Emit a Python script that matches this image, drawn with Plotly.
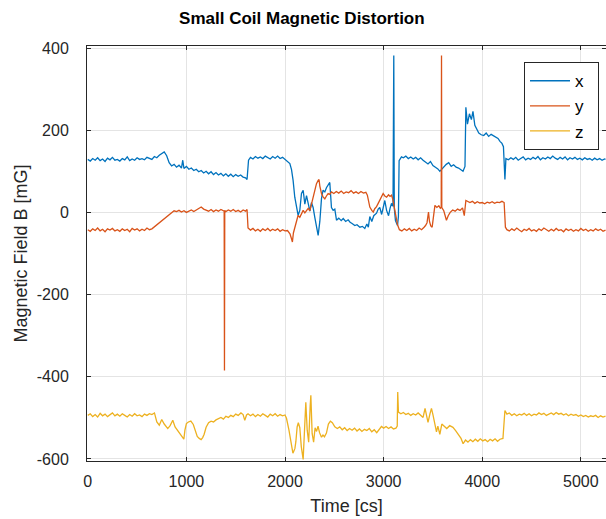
import plotly.graph_objects as go

# (time [cs], field [mG])
X_PTS = [(0,129),(25,125),(50,131),(75,127),(100,133),(125,126),(150,130),(175,124),(200,132),(225,128),
 (250,134),(275,127),(300,129),(325,125),(350,131),(375,128),(400,135),(425,126),(450,130),(475,127),
 (500,133),(525,129),(550,131),(575,128),(600,134),
 (625,132),(650,129),(675,136),(700,133),(725,139),(750,144),(775,147),(800,138),(825,121),(850,113),
 (875,117),(900,110),(925,115),(950,108),(963,127),(975,107),(1000,112),(1025,105),(1050,108),(1075,102),
 (1100,105),(1125,99),(1150,102),(1175,96),(1200,100),(1225,94),(1250,99),(1275,92),(1300,97),(1325,91),
 (1350,95),(1375,89),(1400,94),(1425,88),(1450,93),(1475,87),(1500,92),(1525,88),(1550,91),(1575,86),
 (1600,84),(1615,80),
 (1630,127),(1650,134),(1675,130),(1700,136),(1725,132),(1750,135),(1775,131),(1800,137),(1825,133),
 (1850,130),(1875,136),(1900,132),(1925,137),(1950,131),(1975,134),(2000,129),(2025,124),(2049,119),
 (2066,104),(2082,78),(2099,37),(2116,12),(2133,-7),(2150,5),(2167,46),(2184,54),(2201,20),(2218,41),
 (2235,20),(2252,3),(2268,24),(2285,12),(2302,-12),(2319,-36),(2336,-56),(2353,-22),(2370,34),(2386,54),
 (2404,50),(2420,60),(2437,66),(2454,73),(2471,12),(2488,5),(2505,8),(2522,-19),(2545,-14),(2570,-20),
 (2590,-15),(2615,-22),(2640,-18),(2660,-24),(2680,-27),(2708,-32),(2730,-30),(2759,-36),(2785,-34),
 (2809,-39),(2830,-28),(2845,-36),(2860,-10),(2880,-22),(2900,-8),(2928,-2),(2945,8),(2961,12),(2980,-5),
 (3000,20),(3012,29),(3030,5),(3050,-8),(3065,10),(3080,22),(3095,15),(3103,382),(3108,10),(3120,-20),
 (3141,-32),(3150,-10),(3157,126),(3181,135),
 (3200,133),(3225,137),(3250,131),(3275,135),(3300,130),(3325,134),(3350,128),(3375,133),(3400,127),
 (3425,122),(3450,118),(3475,124),(3500,114),(3525,110),(3550,106),(3570,100),(3590,105),(3610,112),
 (3635,117),(3660,121),(3685,112),(3710,116),(3735,110),(3760,108),(3785,104),(3805,100),(3825,112),
 (3834,256),(3850,215),(3870,240),(3890,226),(3906,246),(3925,212),(3945,201),(3965,193),(3990,189),
 (4015,187),(4040,193),(4065,185),(4090,190),(4115,186),(4140,184),(4160,180),(4180,173),(4200,168),
 (4215,160),(4230,80),(4240,131),
 (4265,128),(4290,133),(4315,129),(4340,134),(4365,127),(4390,131),(4415,135),(4440,128),(4465,132),
 (4490,129),(4515,134),(4540,130),(4565,136),(4590,128),(4615,133),(4640,130),(4665,135),(4690,131),
 (4715,137),(4740,132),(4765,129),(4790,134),(4815,130),(4840,135),(4865,128),(4890,133),(4915,130),
 (4940,134),(4965,129),(4990,132),(5015,128),(5040,133),(5065,129),(5090,131),(5115,127),(5140,132),
 (5165,128),(5190,131),(5215,127),(5240,130),(5250,129)]

Y_PTS = [(0,-42),(25,-46),(50,-40),(75,-44),(100,-38),(125,-45),(150,-41),(175,-47),(200,-40),(225,-43),
 (250,-39),(275,-45),(300,-42),(325,-46),(350,-40),(375,-44),(400,-41),(425,-47),(450,-39),(475,-43),
 (500,-40),(525,-45),(550,-41),(575,-44),(600,-38),(625,-42),
 (650,-40),(675,-35),(700,-31),(725,-25),(750,-20),(775,-15),(800,-9),(825,-5),(850,0),(875,4),(900,2),
 (925,5),(950,1),(975,4),(1000,0),(1025,3),(1050,6),(1075,2),(1100,5),(1125,10),(1150,13),(1175,8),
 (1200,6),(1225,3),(1250,7),(1275,2),(1300,6),(1325,3),(1350,7),(1375,4),(1383,3),(1386,-385),(1389,5),
 (1400,2),(1425,6),(1450,3),(1475,7),(1500,2),(1525,5),(1550,1),(1575,6),(1600,3),(1615,7),(1625,-38),
 (1650,-43),(1675,-39),(1700,-45),(1725,-41),(1750,-46),(1775,-40),(1800,-44),(1825,-39),(1850,-45),
 (1875,-41),(1900,-44),(1925,-40),(1950,-46),(1975,-42),(2000,-45),(2025,-44),(2050,-52),(2066,-64),
 (2075,-72),(2085,-50),(2099,-36),(2116,-20),(2133,-7),(2150,-12),(2167,-4),(2184,5),(2201,-1),(2218,6),
 (2235,10),(2252,4),(2268,20),(2285,34),(2302,52),(2319,70),(2336,78),(2345,80),(2353,64),(2370,46),
 (2386,38),(2404,33),(2420,40),(2437,46),(2454,44),(2471,50),(2495,46),(2520,51),(2545,47),(2570,52),
 (2595,46),(2620,50),(2645,48),(2670,53),(2695,47),(2720,50),(2745,46),(2770,51),(2795,47),(2820,49),
 (2835,42),(2848,30),(2860,13),(2880,5),(2895,1),(2910,9),(2928,14),(2945,22),(2961,30),(2980,38),
 (2995,46),(3012,40),(3030,37),(3050,43),(3065,39),(3080,42),(3095,30),(3110,10),(3125,-12),(3141,-30),
 (3160,-42),(3185,-45),(3210,-40),(3235,-44),(3260,-39),(3285,-45),(3310,-41),(3335,-44),(3360,-38),
 (3385,-42),(3410,-36),(3425,-32),(3440,-25),(3455,1),(3465,-22),(3478,-33),(3492,-36),(3505,-8),
 (3520,17),(3540,12),(3560,16),(3575,10),(3584,12),(3587,382),(3590,12),(3610,4),(3625,-8),(3637,-19),
 (3655,-8),(3675,0),(3700,6),(3725,3),(3750,8),(3775,5),(3800,11),(3818,-8),(3834,29),(3850,27),
 (3875,24),(3900,27),(3925,22),(3950,26),(3975,23),(4000,24),(4025,21),(4050,25),(4075,23),(4100,26),
 (4125,22),(4150,25),(4175,24),(4200,27),(4222,24),(4235,-36),(4250,-42),
 (4275,-45),(4300,-40),(4325,-44),(4350,-38),(4375,-43),(4400,-47),(4425,-41),(4450,-44),(4475,-39),
 (4500,-45),(4525,-42),(4550,-46),(4575,-40),(4600,-44),(4625,-38),(4650,-43),(4675,-46),(4700,-41),
 (4725,-45),(4750,-39),(4775,-44),(4800,-42),(4825,-47),(4850,-40),(4875,-44),(4900,-41),(4925,-46),
 (4950,-42),(4975,-45),(5000,-39),(5025,-44),(5050,-41),(5075,-46),(5100,-42),(5125,-45),(5150,-40),
 (5175,-44),(5200,-41),(5225,-46),(5250,-43)]

Z_PTS = [(0,-494),(25,-490),(50,-497),(75,-492),(100,-498),(125,-489),(150,-495),(175,-491),(200,-497),
 (225,-493),(250,-488),(275,-495),(300,-491),(325,-496),(350,-490),(375,-494),(400,-498),(425,-492),
 (450,-496),(475,-490),(500,-495),(525,-493),(550,-497),(575,-491),(600,-494),(625,-490),
 (650,-492),(676,-488),(700,-510),(725,-518),(750,-504),(775,-515),(795,-520),(811,-526),(835,-519),
 (862,-506),(885,-522),(910,-530),(935,-537),(955,-545),(974,-552),(985,-530),(1000,-514),(1020,-510),
 (1045,-508),(1070,-516),(1090,-530),(1110,-545),(1130,-550),(1149,-553),(1165,-548),(1180,-540),
 (1200,-523),(1225,-512),(1250,-508),(1275,-510),(1300,-505),(1325,-502),(1350,-499),(1375,-503),
 (1400,-496),(1425,-499),(1450,-494),(1475,-497),(1500,-491),(1525,-494),(1553,-488),(1575,-492),
 (1592,-506),(1610,-493),(1625,-490),(1650,-495),(1675,-491),(1700,-497),(1725,-492),(1750,-496),
 (1775,-490),(1800,-494),(1825,-498),(1850,-491),(1875,-495),(1900,-490),(1925,-496),(1950,-492),
 (1975,-495),(2000,-493),(2015,-501),(2040,-530),(2066,-571),(2080,-586),(2100,-575),(2110,-558),
 (2123,-522),(2135,-512),(2150,-524),(2165,-570),(2184,-601),(2197,-522),(2211,-462),(2225,-530),
 (2240,-559),(2255,-472),(2262,-445),(2275,-538),(2290,-559),(2305,-524),(2320,-533),(2335,-520),
 (2350,-536),(2370,-547),(2385,-542),(2400,-546),(2420,-537),(2440,-515),(2460,-508),(2480,-512),
 (2505,-522),(2530,-526),(2555,-522),(2580,-529),(2605,-524),(2630,-531),(2655,-526),(2680,-530),
 (2705,-525),(2730,-532),(2755,-527),(2780,-533),(2805,-528),(2830,-531),(2855,-526),(2880,-534),
 (2905,-529),(2930,-536),(2955,-527),(2978,-521),(3000,-525),(3025,-521),(3050,-526),(3075,-522),
 (3100,-527),(3125,-525),(3138,-520),(3143,-437),(3150,-486),(3175,-490),(3200,-487),(3225,-492),
 (3250,-489),(3275,-494),(3300,-490),(3325,-493),(3350,-488),(3375,-494),(3400,-499),(3420,-477),
 (3435,-492),(3450,-511),(3470,-490),(3485,-477),(3500,-492),(3520,-515),(3536,-534),(3550,-520),
 (3570,-540),(3590,-515),(3615,-521),(3640,-526),(3670,-519),(3703,-523),(3730,-531),(3760,-541),
 (3785,-550),(3806,-563),(3830,-554),(3855,-559),(3880,-553),(3905,-558),(3930,-552),(3955,-557),
 (3980,-551),(4005,-556),(4030,-553),(4055,-558),(4080,-552),(4105,-556),(4130,-551),(4155,-557),
 (4180,-552),(4210,-550),(4230,-482),(4250,-491),(4275,-488),(4300,-494),(4325,-490),(4350,-495),
 (4375,-491),(4400,-493),(4425,-489),(4450,-494),(4475,-490),(4500,-495),(4525,-491),(4550,-493),
 (4575,-488),(4600,-492),(4625,-489),(4650,-494),(4675,-490),(4700,-488),(4725,-492),(4750,-487),
 (4775,-491),(4800,-489),(4825,-493),(4850,-490),(4875,-495),(4900,-491),(4925,-494),(4950,-492),
 (4975,-496),(5000,-493),(5025,-497),(5050,-494),(5075,-498),(5100,-495),(5125,-497),(5150,-494),
 (5175,-499),(5200,-495),(5225,-498),(5250,-496)]

SERIES_NAMES = ["x", "y", "z"]
SERIES_COLORS = ["#0072BD", "#D95319", "#EDB120"]
X_TICKS = [0, 1000, 2000, 3000, 4000, 5000]
Y_TICKS = [-600, -400, -200, 0, 200, 400]
Y_TICK_TEXT = ["-600", "-400", "-200", "0", "200", "400"]

fig = go.Figure()
for name, pts, col in zip(SERIES_NAMES, [X_PTS, Y_PTS, Z_PTS], SERIES_COLORS):
    t, v = zip(*pts)
    fig.add_trace(go.Scatter(x=list(t), y=list(v), mode="lines", name=name + "&nbsp;&nbsp;",
                             line=dict(color=col, width=1.3)))

FONT = "Liberation Sans, Arial, Helvetica, sans-serif"
axis_common = dict(showgrid=True, gridcolor="#e4e4e4", gridwidth=1, zeroline=False,
                   showline=True, linecolor="#262626", linewidth=1, mirror="ticks",
                   ticks="inside", ticklen=4, tickcolor="#262626",
                   tickfont=dict(family=FONT, size=16, color="#262626"))

fig.update_layout(
    width=606, height=519,
    margin=dict(l=87, r=0, t=46, b=58),
    paper_bgcolor="white", plot_bgcolor="white",
    font=dict(family=FONT, size=16, color="#262626"),
    title=dict(text="<b>Small Coil Magnetic Distortion</b>", xref="paper", x=0.414, xanchor="center",
               yref="container", y=0.966, yanchor="middle",
               font=dict(family=FONT, size=17, color="#000000")),
    xaxis=dict(range=[-8, 5255], tickvals=X_TICKS, ticklabelstandoff=6,
               title=dict(text="Time [cs]", font=dict(family=FONT, size=18, color="#262626"), standoff=10),
               **axis_common),
    yaxis=dict(range=[-605, 405], tickvals=Y_TICKS, ticktext=Y_TICK_TEXT, ticklabelstandoff=14,
               title=dict(text="Magnetic Field B [mG]", font=dict(family=FONT, size=18, color="#262626"), standoff=4),
               **axis_common),
    legend=dict(x=0.9865, xanchor="right", y=0.961, yanchor="top", itemwidth=40,
                bgcolor="white", bordercolor="#262626", borderwidth=1,
                font=dict(family=FONT, size=17, color="#000000")),
    showlegend=True,
)

fig.write_html("out.html")
